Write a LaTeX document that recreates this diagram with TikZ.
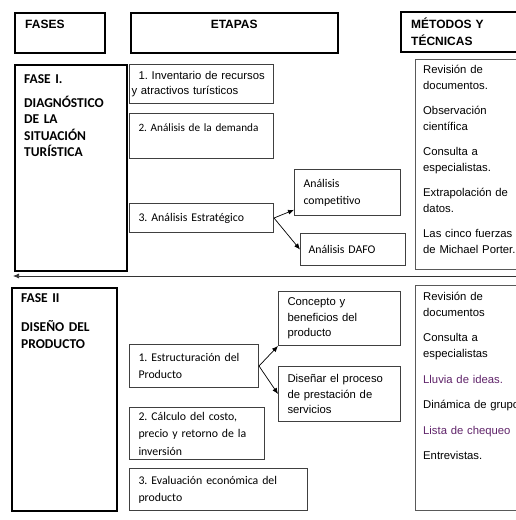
\documentclass[tikz,border=0pt]{standalone}
\usepackage{fontspec}
\setmainfont{Liberation Sans}
\newfontfamily\calibri{Carlito}
\usetikzlibrary{arrows.meta}
\definecolor{morado}{RGB}{95,35,105}
\frenchspacing

\begin{document}
\begin{tikzpicture}[x=1pt,y=-1pt]
\tikzset{
	cab/.style={draw=black, line width=2.4pt, anchor=north west, minimum height=40pt, inner xsep=10pt, inner ysep=0pt, font=\bfseries\fontsize{12}{17}\selectfont},
	fase/.style={draw=black, line width=1.6pt, anchor=north west, inner sep=0pt},
	caja/.style={draw=black!75, line width=1pt, anchor=north west, align=left, inner xsep=9pt, inner ysep=0pt},
	met/.style={draw=black!65, line width=1pt, anchor=north west, inner sep=0pt},
	ar/.style={font=\fontsize{11.3}{15.5}\selectfont},
	ca/.style={font=\calibri\fontsize{11.8}{17}\selectfont},
	tf/.style={anchor=base west, align=left, inner sep=0pt, text width=100pt, font=\calibri\bfseries\fontsize{13.5}{16.5}\selectfont},
	tm/.style={anchor=base west, align=left, inner sep=0pt, text width=110pt, font=\fontsize{11.3}{16}\selectfont},
	flecha/.style={-{Latex[length=6pt,width=5pt]}, line width=0.7pt}
}
\useasboundingbox (0,0) rectangle (516,520);
\clip (0,0) rectangle (516,520);

% encabezados
\node[cab, minimum width=90pt, text width=70pt, align=left] (h_f) at (14,12) {FASES\\\mbox{}};
\node[cab, minimum width=207pt, text width=187pt, align=center] (h_e) at (129.5,12) {ETAPAS\\\mbox{}};
\node[cab, minimum width=130pt, text width=110pt, align=left] (h_m) at (400,11) {MÉTODOS Y\\TÉCNICAS};

% fase I
\node[fase, minimum width=112pt, minimum height=206pt] (f_1) at (14,64) {};
\node[tf] (f_1t) at (24,83) {FASE I.\\[7.5pt]DIAGNÓSTICO\\DE LA\\SITUACIÓN\\TURÍSTICA};

% etapas fase I
\node[caja, minimum width=144pt, minimum height=39pt, text width=140pt, inner xsep=2pt, font=\fontsize{11.3}{15}\selectfont] (e_11) at (129,64) {\hspace*{7pt}1. Inventario de recursos\\y atractivos turísticos};
\node[caja, minimum width=144pt, minimum height=45pt, text width=126pt, font=\calibri\fontsize{11.2}{17}\selectfont] (e_12) at (129,113) {\mbox{2. Análisis de la demanda}\\\mbox{}};
\node[caja, ca, minimum width=144pt, minimum height=29pt, text width=126pt] (e_13) at (129,203) {3. Análisis Estratégico};
\node[caja, ca, minimum width=106pt, minimum height=46pt, text width=88pt] (e_1c) at (294,169) {Análisis\\competitivo};
\node[caja, ca, minimum width=105pt, minimum height=32pt, text width=89pt, inner xsep=8pt] (e_1d) at (300,233) {Análisis DAFO};

\draw[flecha] (e_13.east) -- (e_1c.198);
\draw[flecha] (e_13.east) -- (e_1d.west);

% métodos fase I
\node[met, minimum width=115pt, minimum height=210pt] (m_1) at (415,59) {};
\node[tm] (m_1t) at (423,73) {Revisión de\\documentos.\\[9pt]Observación\\científica\\[9pt]Consulta a\\especialistas.\\[9pt]Extrapolación de\\datos.\\[9pt]Las cinco fuerzas\\de Michael Porter.};

% separador entre fases
\coordinate (sep_d) at (520,276);
\coordinate (sep_i) at (13,276);
\draw[flecha, black!80] (sep_d) -- (sep_i);

% fase II
\node[fase, minimum width=105pt, minimum height=223pt] (f_2) at (11,287) {};
\node[tf] (f_2t) at (21,302.5) {FASE II\\[12.5pt]DISEÑO DEL\\PRODUCTO};

% etapas fase II
\node[caja, ca, minimum width=129pt, minimum height=43pt, text width=111pt] (e_21) at (129,344) {1. Estructuración del\\Producto};
\node[caja, ar, minimum width=122pt, minimum height=54pt, text width=104pt] (e_2c) at (278,291) {Concepto y\\beneficios del\\producto};
\node[caja, ar, minimum width=122pt, minimum height=55pt, text width=104pt] (e_2d) at (278,366) {Diseñar el proceso\\de prestación de\\servicios};
\node[caja, minimum width=135pt, minimum height=52pt, text width=117pt, font=\calibri\fontsize{11.8}{17.5}\selectfont] (e_22) at (129,407) {2. Cálculo del costo,\\precio y retorno de la\\inversión};
\node[caja, ca, minimum width=178pt, minimum height=42pt, text width=160pt] (e_23) at (129,468) {3. Evaluación económica del\\producto};

\draw[flecha] (e_21.east) -- (e_2c.south west);
\draw[flecha] (e_21.east) -- (e_2d.west);

% métodos fase II
\node[met, minimum width=115pt, minimum height=225pt] (m_2) at (415,285) {};
\node[tm] (m_2t) at (423,300) {Revisión de\\documentos\\[9.5pt]Consulta a\\especialistas\\[9.5pt]{\color{morado}Lluvia de ideas.}\\[9.5pt]Dinámica de grupo\\[9.5pt]{\color{morado}Lista de chequeo}\\[9.5pt]Entrevistas.};

\end{tikzpicture}
\end{document}
